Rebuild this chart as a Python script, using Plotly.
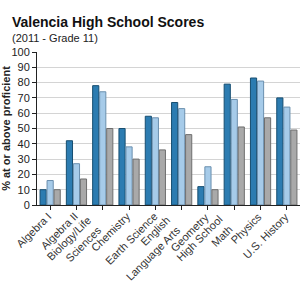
import plotly.graph_objects as go

categories = ["Algebra I", "Algebra II", "Biology/Life<br>Sciences", "Chemistry",
              "Earth Science", "English<br>Language Arts", "Geometry",
              "High School<br>Math", "Physics", "U.S. History"]
school = [10, 42, 78, 50, 58, 67, 12, 79, 83, 70]
district = [16, 27, 74, 38, 57, 63, 25, 69, 81, 64]
state = [10, 17, 50, 30, 36, 46, 10, 51, 57, 49]
y_ticks = list(range(0, 101, 10))

W, H = 300, 282
ML, MR, MT, MB = 35, 0, 52, 77
PW, PH = W - ML - MR, H - MT - MB
xs = list(range(len(categories)))

fig = go.Figure()
for name, vals, col, edge in [("School", school, "#2c7cb1", "#174e70"),
                              ("District", district, "#a6cbe9", "#6a8fae"),
                              ("State", state, "#a9a9a9", "#6e6e6e")]:
    fig.add_trace(go.Bar(x=xs, y=vals, name=name,
                         marker=dict(color=col, line=dict(color=edge, width=1))))

annotations = [
    dict(text="<b>Valencia High School Scores</b>", x=(8 - ML) / PW, y=1 + (MT - 22) / PH,
         xref="paper", yref="paper", showarrow=False, xanchor="left", yanchor="middle",
         font=dict(size=14, color="#111")),
    dict(text="(2011 - Grade 11)", x=(8 - ML) / PW, y=1 + (MT - 38) / PH,
         xref="paper", yref="paper", showarrow=False, xanchor="left", yanchor="middle",
         font=dict(size=11, color="#222")),
]
for i, lab in enumerate(categories):
    two = "<br>" in lab
    dx = 2 if two else 5
    ytop = 212 if two else 209
    annotations.append(dict(
        text=lab, x=i + dx / 26.5, y=-(ytop - (MT + PH)) / PH,
        xref="x", yref="paper", showarrow=False, xanchor="right", yanchor="top",
        textangle=-45, align="right", borderpad=0,
        font=dict(size=11, color="#333")))

fig.update_layout(
    width=W, height=H,
    margin=dict(l=ML, r=MR, t=MT, b=MB),
    paper_bgcolor="white", plot_bgcolor="white",
    showlegend=False,
    barmode="group", bargap=0.2, bargroupgap=0.12,
    font=dict(family="Liberation Sans, Arial", size=11, color="#333"),
    annotations=annotations,
)

fig.update_xaxes(tickmode="array", tickvals=xs, showticklabels=False,
                 range=[-0.5, 9.5], showgrid=False,
                 showline=True, linecolor="#222", linewidth=1,
                 ticks="outside", ticklen=4, tickcolor="#222")
fig.update_yaxes(range=[0, 100], tickvals=y_ticks, showgrid=True, gridcolor="#d4d4d4",
                 showline=True, linecolor="#222", linewidth=1,
                 ticks="outside", ticklen=4, tickcolor="#222",
                 tickfont=dict(size=11, color="#222"),
                 title=dict(text="<b>% at or above proficient</b>", font=dict(size=11, color="#222"),
                            standoff=4),
                 zeroline=False)

fig.write_html("out.html")
